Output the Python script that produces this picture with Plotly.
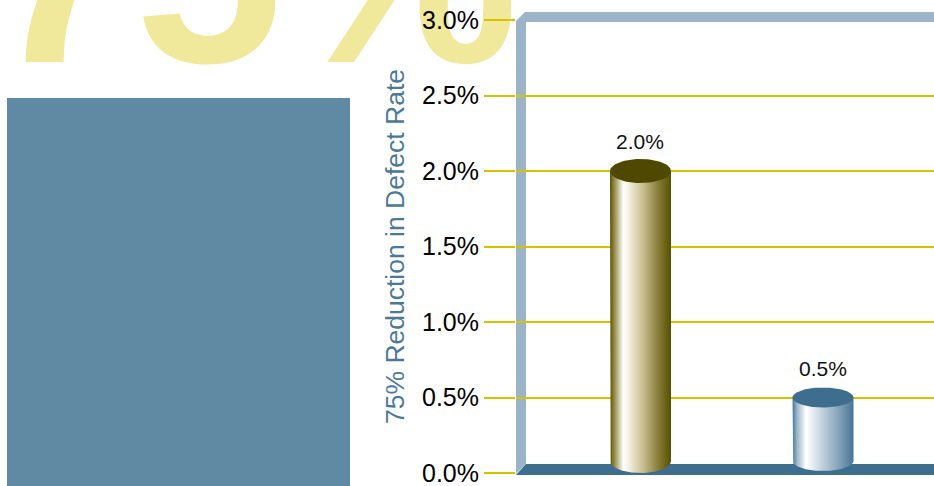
import numpy as np
import plotly.graph_objects as go

# ---- data ----
categories = ["Before", "After"]
defect_rate = [0.020, 0.005]
value_labels = ["2.0%", "0.5%"]
tick_values = [0.0, 0.005, 0.010, 0.015, 0.020, 0.025, 0.030]
tick_labels = ["0.0%", "0.5%", "1.0%", "1.5%", "2.0%", "2.5%", "3.0%"]
axis_title = "75% Reduction in Defect Rate"
big_text = "75%"

# ---- style ----
FIG_W, FIG_H = 934, 486
PL, PT, PR, PB = 516, 20, 0, 13
PW = FIG_W - PL - PR
PH = FIG_H - PT - PB
YMAX = 0.03
X_RANGE = [-0.682, 1.608]
GRID = "#d6c200"
WALL = "#9cb4c8"
FLOOR = "#3d6e8e"
PANEL = "#6089a3"
TITLE_C = "#4b7a99"

body_scales = [
    [[0, "#5a5200"], [0.08, "#9a9150"], [0.22, "#ffffff"], [0.3, "#f4f1e2"],
     [0.55, "#c6bc8c"], [0.8, "#857a36"], [1, "#575000"]],
    [[0, "#4a7898"], [0.08, "#9fb8cb"], [0.22, "#ffffff"], [0.3, "#eef2f6"],
     [0.55, "#b3c6d5"], [0.8, "#7a9bb3"], [1, "#467595"]],
]
top_colors = ["#4e4800", "#3d6e8e"]
half_w_px = 30.5
ry_px = [12, 10]
base_px = 12  # bottom ellipse centre above front floor edge

xunit_px = PW / (X_RANGE[1] - X_RANGE[0])
yunit_px = PH / YMAX


def px(x):
    return (x - PL) / PW


def py(y):
    return (FIG_H - PB - y) / PH


def path(points):
    return "M " + " L ".join(f"{px(a):.5f},{py(b):.5f}" for a, b in points) + " Z"


fig = go.Figure()

# cylinders
t = np.linspace(0, 2 * np.pi, 90)
for i, (cat, v) in enumerate(zip(categories, defect_rate)):
    hw = half_w_px / xunit_px
    ry = ry_px[i] / yunit_px
    yb = base_px / yunit_px
    ang = np.linspace(np.pi, 2 * np.pi, 60)
    bx = list(i + hw * np.cos(ang))
    by = list(yb + ry * np.sin(ang))
    xs = [i - hw] + bx + [i + hw, i - hw]
    ys = [v] + by + [v, v]
    fig.add_trace(go.Scatter(
        x=xs, y=ys, mode="lines", fill="toself", line=dict(width=0),
        fillgradient=dict(type="horizontal", colorscale=body_scales[i]),
        hoverinfo="skip", showlegend=False, name=cat,
    ))
    fig.add_trace(go.Scatter(
        x=i + hw * np.cos(t), y=v + ry * np.sin(t), mode="lines", fill="toself",
        fillcolor=top_colors[i], line=dict(width=0),
        hoverinfo="skip", showlegend=False,
    ))
    fig.add_annotation(x=i, y=v, text=value_labels[i], showarrow=False,
                       yanchor="bottom", yshift=16,
                       font=dict(family="Liberation Sans", size=21, color="#111111"))

shapes = [
    # big background text as a label of an invisible shape (drawn beneath the axes)
    dict(type="rect", xref="paper", yref="paper", x0=px(3), x1=px(503),
         y0=py(-17), y1=py(-93), fillcolor="rgba(0,0,0,0)", line=dict(width=0),
         layer="below",
         label=dict(text=big_text, textposition="middle center",
                    font=dict(family="Liberation Sans", size=265, color="#f0e89b",
                              weight="bold"))),
    dict(type="rect", xref="paper", yref="paper", x0=px(7), x1=px(350),
         y0=py(FIG_H + 5), y1=py(98), fillcolor=PANEL, line=dict(width=0), layer="below"),
    dict(type="path", xref="paper", yref="paper",
         path=path([(516, 474), (516, 21), (525, 12), (934, 12), (934, 22), (526, 22), (526, 464)]),
         fillcolor=WALL, line=dict(width=0), layer="between"),
    dict(type="path", xref="paper", yref="paper",
         path=path([(516, 475), (526, 464), (934, 464), (934, 475)]),
         fillcolor=FLOOR, line=dict(width=0), layer="between"),
]

fig.update_layout(
    width=FIG_W, height=FIG_H,
    margin=dict(l=PL, r=PR, t=PT, b=PB, autoexpand=False),
    paper_bgcolor="white", plot_bgcolor="white",
    shapes=shapes, showlegend=False,
    xaxis=dict(range=X_RANGE, visible=False, fixedrange=True),
    yaxis=dict(
        range=[0, YMAX], tickvals=tick_values, ticktext=tick_labels,
        showgrid=True, gridcolor=GRID, gridwidth=2,
        ticks="outside", ticklen=31, tickwidth=2, tickcolor=GRID,
        showline=False, zeroline=False, automargin=False,
        ticklabeloverflow="allow",
        tickfont=dict(family="Liberation Sans", size=25, color="#000000"),
        title=dict(text=axis_title, standoff=9,
                   font=dict(family="Liberation Sans", size=26.5, color=TITLE_C)),
    ),
)

fig.write_html("out.html", config={"displayModeBar": False},
               post_script="document.body.style.margin='0px';document.body.style.overflow='hidden';")
